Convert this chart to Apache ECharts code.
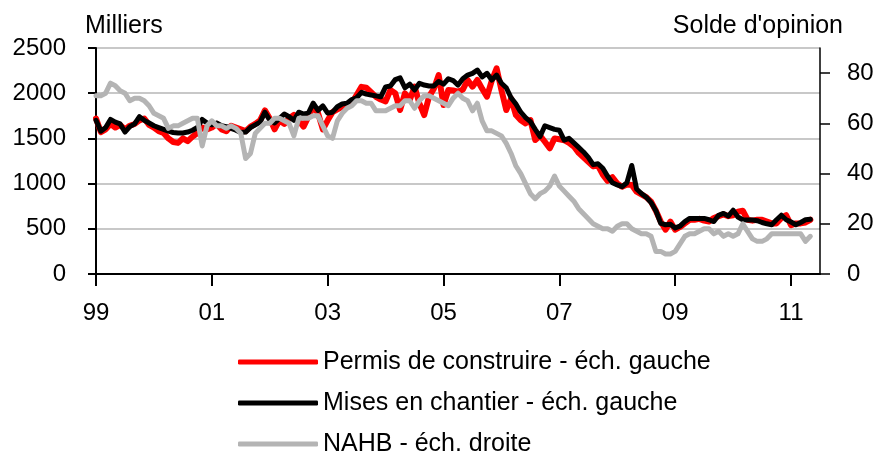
<!DOCTYPE html>
<html>
<head>
<meta charset="utf-8">
<script src="https://cdn.jsdelivr.net/npm/echarts@6/dist/echarts.min.js"></script>
<style>
  html, body { margin: 0; padding: 0; background: #fff; }
  #main { width: 879px; height: 456px; }
</style>
</head>
<body>
<div id="main"></div>
<script>
// mois de 1999-01 a 2011-07
var months = [];
for (var y = 1999; y <= 2011; y++) {
  for (var m = 1; m <= 12; m++) {
    if (y === 2011 && m > 7) break;
    months.push(y + '-' + (m < 10 ? '0' + m : m));
  }
}

// Permis de construire (milliers)
var permis = [
  1720, 1570, 1600, 1660, 1620, 1650, 1600, 1640, 1660, 1700, 1720, 1650,
  1620, 1580, 1560, 1500, 1460, 1450, 1500, 1470, 1520, 1560, 1620, 1600,
  1620, 1660, 1600, 1580, 1640, 1620, 1600, 1580, 1630, 1660, 1700, 1810,
  1720, 1600, 1700, 1660, 1720, 1760, 1700, 1630, 1740, 1850, 1780, 1600,
  1700, 1790, 1820, 1850, 1870, 1890, 1980, 2070, 2060, 2010, 1960, 1930,
  1910, 2035, 2000, 1814, 1998, 1925, 2072, 1888, 1758, 1962, 2050, 2200,
  1870, 2035, 2030, 2017, 2040, 2146, 2072, 2146, 2050, 1962, 2140, 2275,
  2035, 1814, 1940, 1758, 1700, 1666, 1703, 1482, 1530, 1463, 1390, 1500,
  1490, 1480, 1450, 1410, 1340, 1290, 1240, 1190, 1200, 1100, 1030, 1070,
  1000, 966, 990, 985, 910, 880, 850, 800, 700, 580, 490, 580,
  490, 520, 560, 600, 600, 610, 590, 580, 620, 640, 660, 640,
  650, 690, 700, 600, 590, 600, 600, 580, 560, 560, 620, 650,
  540, 560, 560, 570, 600
];

// Mises en chantier (milliers)
var chantier = [
  1700, 1580, 1620, 1710, 1680, 1660, 1570, 1630, 1660, 1740, 1700, 1670,
  1640, 1620, 1600, 1580, 1565, 1560, 1560, 1570, 1590, 1620, 1710, 1670,
  1650, 1670, 1640, 1630, 1610, 1590, 1565, 1570, 1620, 1650, 1680, 1790,
  1700, 1670, 1720, 1770, 1740, 1700, 1790, 1770, 1780, 1890, 1810, 1860,
  1780, 1790, 1850, 1880, 1890, 1930, 1950, 2010, 1990, 1980, 1970, 1960,
  2070, 2080, 2150, 2170, 2060, 2100, 2035, 2110, 2090, 2080, 2080, 2130,
  2100, 2160, 2140, 2090, 2160, 2200, 2220, 2256, 2180, 2220, 2146, 2200,
  2110, 2060, 1950, 1880, 1790, 1730, 1685, 1600, 1520, 1640, 1620, 1600,
  1590, 1480, 1500, 1450, 1400, 1350, 1290, 1210, 1220, 1170, 1080, 1010,
  985, 966, 1010, 1200, 940, 890, 850, 790, 700, 560, 545, 550,
  510, 530, 580, 615, 615, 615, 615, 600, 580, 650, 670, 640,
  705, 630, 600, 597, 597, 590, 570, 555, 545, 600, 650, 600,
  575, 545, 570, 600, 605
];

// NAHB (solde d'opinion)
var nahb = [
  71, 71, 72, 76, 75, 73, 72, 69, 70, 70, 69, 67,
  64, 63, 62, 58, 59, 59, 60, 61, 62, 62, 51, 59,
  61, 59, 59, 58, 59, 58, 56, 46, 48, 56, 58, 60,
  60, 62, 62, 61, 60, 55, 62, 62, 62, 63, 63, 59,
  55, 54, 61, 64, 66, 67, 69, 69, 68, 68, 65, 65,
  65, 66, 67, 67, 69, 69, 66, 69, 71, 71, 70, 69,
  68, 67, 70, 72, 70, 69, 65, 68, 61, 57, 57, 56,
  55, 52, 48, 43, 40, 36, 32, 30, 32, 33, 35, 39,
  35, 33, 31, 29, 26, 24, 22, 20, 19, 18, 18, 17,
  19, 20, 20, 18, 17, 16, 16, 15, 9, 9, 8, 8,
  9, 12, 15, 16, 16, 17, 18, 18, 16, 17, 15, 16,
  15, 16, 20, 17, 14, 13, 13, 14, 16, 16, 16, 16,
  16, 16, 16, 13, 15
];

var leftTicks = [0, 500, 1000, 1500, 2000, 2500];
var rightTicks = [0, 20, 40, 60, 80];

var font = 'Liberation Sans, Arial, sans-serif';
var chart = echarts.init(document.getElementById('main'));

function tousLesDeuxAns(idx) {
  return idx % 24 === 0;
}

var option = {
  animation: false,
  textStyle: { fontFamily: font, color: '#000' },
  title: [
    { text: 'Milliers', left: 80, top: 9, textStyle: { fontFamily: font, fontSize: 25, fontWeight: 'normal', color: '#000' } },
    { text: "Solde d'opinion", right: 31, top: 9, textStyle: { fontFamily: font, fontSize: 25, fontWeight: 'normal', color: '#000' } }
  ],
  grid: { left: 96, right: 59, top: 48, bottom: 182 },
  legend: {
    orient: 'vertical',
    left: 233,
    top: 344,
    height: 112,
    icon: 'roundRect',
    itemWidth: 80,
    itemHeight: 5,
    itemGap: 15,
    textStyle: { fontFamily: font, fontSize: 25, color: '#000', lineHeight: 26 },
    data: ['Permis de construire - éch. gauche', 'Mises en chantier - éch. gauche', 'NAHB - éch. droite']
  },
  xAxis: {
    type: 'category',
    data: months,
    boundaryGap: false,
    axisLine: { lineStyle: { color: '#000', width: 2 } },
    axisTick: { interval: tousLesDeuxAns, length: 12, lineStyle: { color: '#000', width: 2 } },
    axisLabel: {
      interval: tousLesDeuxAns,
      margin: 27,
      fontSize: 24,
      color: '#000',
      fontFamily: font,
      formatter: function (v) { return v.slice(2, 4); }
    },
    splitLine: { show: false }
  },
  yAxis: [
    {
      type: 'value',
      min: 0,
      max: 2500,
      interval: 500,
      axisLine: { show: true, lineStyle: { color: '#000', width: 2 } },
      axisTick: { show: true, length: 8, lineStyle: { color: '#000', width: 2 } },
      axisLabel: {
        margin: 30, fontSize: 24, color: '#000', fontFamily: font, customValues: leftTicks,
        formatter: function (v) { return String(v); }
      },
      splitLine: { show: true, lineStyle: { color: '#c8c8c8', width: 2 } }
    },
    {
      type: 'value',
      min: 0,
      max: 90,
      position: 'right',
      axisLine: { show: true, lineStyle: { color: '#000', width: 1.5 } },
      axisTick: { show: true, length: 10, customValues: rightTicks, lineStyle: { color: '#000', width: 1.5 } },
      axisLabel: { margin: 27, fontSize: 24, color: '#000', fontFamily: font, customValues: rightTicks },
      splitLine: { show: false }
    }
  ],
  series: [
    {
      name: 'Permis de construire - éch. gauche',
      type: 'line',
      yAxisIndex: 0,
      data: permis,
      showSymbol: false,
      symbol: 'none',
      itemStyle: { color: '#ff0000' },
      lineStyle: { color: '#ff0000', width: 6, cap: 'round', join: 'round' }
    },
    {
      name: 'Mises en chantier - éch. gauche',
      type: 'line',
      yAxisIndex: 0,
      data: chantier,
      showSymbol: false,
      symbol: 'none',
      itemStyle: { color: '#000000' },
      lineStyle: { color: '#000000', width: 5, cap: 'round', join: 'round' }
    },
    {
      name: 'NAHB - éch. droite',
      type: 'line',
      yAxisIndex: 1,
      data: nahb,
      showSymbol: false,
      symbol: 'none',
      itemStyle: { color: '#b4b4b4' },
      lineStyle: { color: '#b4b4b4', width: 5, cap: 'round', join: 'round' }
    }
  ]
};

chart.setOption(option);
</script>
</body>
</html>
